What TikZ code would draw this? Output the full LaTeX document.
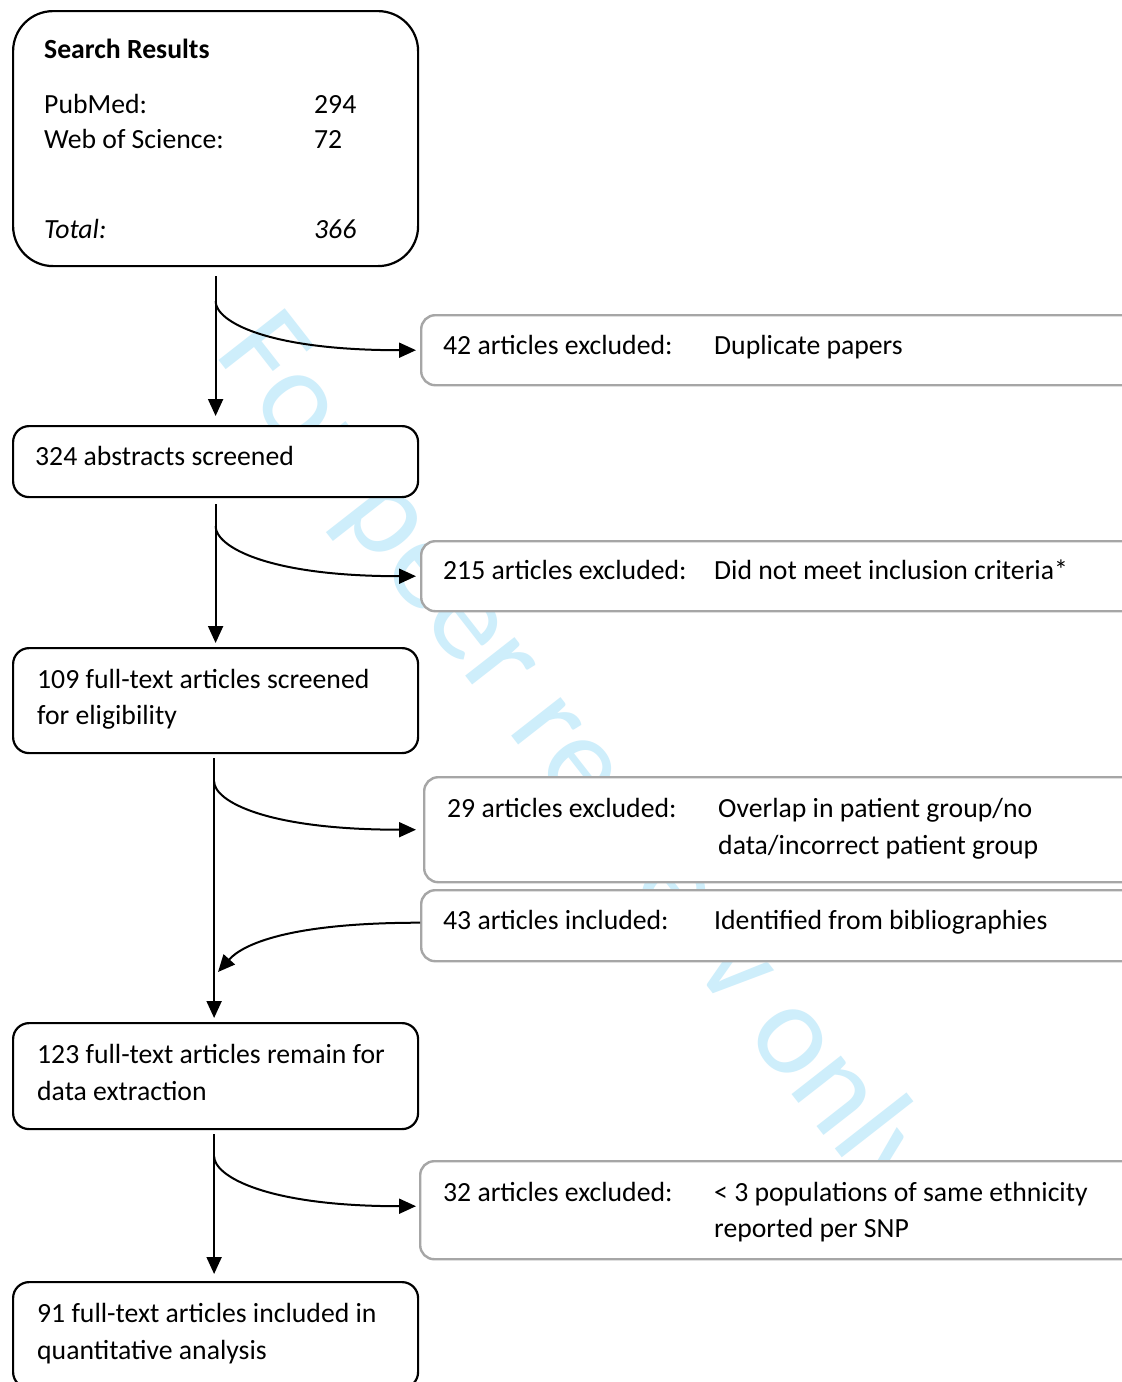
\documentclass[tikz,border=0pt]{standalone}
\usepackage{fontspec}
\setmainfont{Carlito}
\usetikzlibrary{arrows.meta,calc}
\definecolor{wm}{RGB}{206,238,251}
\definecolor{gbox}{RGB}{166,166,166}
\begin{document}
\begin{tikzpicture}[x=1pt,y=1pt,
  mainbox/.style={draw=black,line width=2.2pt,fill=white,rounded corners=16pt,inner sep=0pt,anchor=north west},
  sidebox/.style={draw=gbox,line width=2.4pt,fill=white,rounded corners=14pt,inner sep=0pt,anchor=north west},
  txt/.style={anchor=base west,inner sep=0pt,font=\fontsize{27.7}{37}\selectfont},
  arr/.style={line width=2pt,-{Triangle[length=17pt,width=15pt]}},
  ]
\useasboundingbox[fill=white] (0,0) rectangle (1122,-1382);

% watermark
\node[anchor=base west,inner sep=0pt,rotate=-52,text=wm,font=\fontsize{131}{131}\selectfont] (wmark) at (213,-353) {For peer review only};

% main boxes
\node[mainbox,rounded corners=40pt,minimum width=405pt,minimum height=255pt] (sr) at (12,-10) {};
\node[mainbox,minimum width=405pt,minimum height=71pt] (ab) at (12,-425) {};
\node[mainbox,minimum width=405pt,minimum height=105pt] (ft) at (12,-647) {};
\node[mainbox,minimum width=405pt,minimum height=106pt] (de) at (12,-1022) {};
\node[mainbox,minimum width=405pt,minimum height=106pt] (qa) at (12,-1281) {};

% side boxes
\node[sidebox,minimum width=720pt,minimum height=70pt] (ex1) at (420,-314) {};
\node[sidebox,minimum width=720pt,minimum height=70pt] (ex2) at (420,-540) {};
\node[sidebox,minimum width=720pt,minimum height=105pt] (ex3) at (423,-776) {};
\node[sidebox,minimum width=720pt,minimum height=71pt] (inc) at (420,-889) {};
\node[sidebox,minimum width=720pt,minimum height=98pt] (ex4) at (419,-1160) {};

% texts main
\node[txt,font=\bfseries\fontsize{27.7}{37}\selectfont] (t1) at (44,-58) {Search Results};
\node[txt] (t2) at (44,-113) {PubMed:};
\node[txt] (t3) at (314,-113) {294};
\node[txt] (t4) at (44,-148) {Web of Science:};
\node[txt] (t5) at (314,-148) {72};
\node[txt,font=\itshape\fontsize{27.7}{37}\selectfont] (t6) at (44,-238) {Total:};
\node[txt,font=\itshape\fontsize{27.7}{37}\selectfont] (t7) at (314,-238) {366};
\node[txt] (t8) at (35,-465) {324 abstracts screened};
\node[txt] (t9) at (37,-688) {109 full-text articles screened};
\node[txt] (t10) at (37,-724) {for eligibility};
\node[txt] (t11) at (37,-1063) {123 full-text articles remain for};
\node[txt] (t12) at (37,-1100) {data extraction};
\node[txt] (t13) at (37,-1322) {91 full-text articles included in};
\node[txt] (t14) at (37,-1359) {quantitative analysis};

% texts side
\node[txt] (s1) at (443,-354) {42 articles excluded:};
\node[txt] (s2) at (714,-354) {Duplicate papers};
\node[txt] (s3) at (443,-579) {215 articles excluded:};
\node[txt] (s4) at (714,-579) {Did not meet inclusion criteria*};
\node[txt] (s5) at (447,-817) {29 articles excluded:};
\node[txt] (s6) at (718,-817) {Overlap in patient group/no};
\node[txt] (s7) at (718,-854) {data/incorrect patient group};
\node[txt] (s8) at (443,-929) {43 articles included:};
\node[txt] (s9) at (714,-929) {Identified from bibliographies};
\node[txt] (s10) at (443,-1201) {32 articles excluded:};
\node[txt] (s11) at (714,-1201) {< 3 populations of same ethnicity};
\node[txt] (s12) at (714,-1237) {reported per SNP};

% vertical arrows
\draw[arr] ([yshift=-9pt]sr.south) -- ([yshift=9pt]ab.north);
\draw[arr] ([yshift=-6pt]ab.south) -- ([yshift=4pt]ft.north);
\draw[arr] ([xshift=-1.5pt,yshift=-4pt]ft.south) -- ([xshift=-1.5pt,yshift=4pt]de.north);
\draw[arr] ([xshift=-1.5pt,yshift=-4pt]de.south) -- ([xshift=-1.5pt,yshift=7pt]qa.north);

% branch arrows
\draw[arr] ([yshift=-34pt]sr.south) .. controls +(0,-20) and +(-150,0) .. ([xshift=-4pt]ex1.west);
\draw[arr] ([yshift=-28pt]ab.south) .. controls +(0,-20) and +(-150,0) .. ([xshift=-4pt]ex2.west);
\draw[arr] ([xshift=-1.5pt,yshift=-27pt]ft.south) .. controls +(0,-20) and +(-150,0) .. ([xshift=-7pt]ex3.west);
\draw[arr] ([xshift=-1.5pt,yshift=-26pt]de.south) .. controls +(0,-20) and +(-150,0) .. ([xshift=-3pt,yshift=4pt]ex4.west);

\coordinate (m43) at (218,-972);
\draw[arr] ([yshift=3pt]inc.west) .. controls +(-130,0) and +(25,28) .. (m43);
\end{tikzpicture}
\end{document}
